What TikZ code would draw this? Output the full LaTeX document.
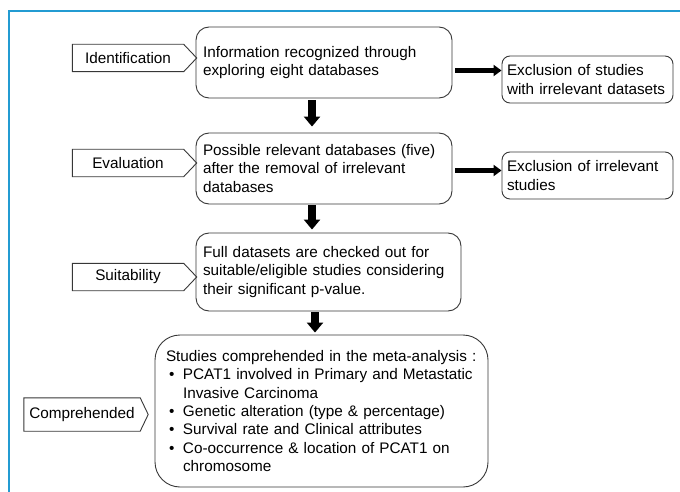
\documentclass[tikz,border=0pt]{standalone}
\usepackage{fontspec}
\setmainfont{Liberation Sans}
\usetikzlibrary{arrows.meta,calc}
\definecolor{frameblue}{RGB}{35,155,210}
\definecolor{boxgray}{RGB}{55,55,55}
\newcommand\tagshape[2]{\draw[boxgray,line width=0.9pt] (#1.north west) -- (#1.north east) -- ($(#1.east)+(#2,0)$) -- (#1.south east) -- (#1.south west) -- cycle;}
\newcommand\bul{\makebox[17pt][l]{\hspace{3pt}•}}
\begin{document}
\begin{tikzpicture}[x=1pt,y=-1pt,
  font=\fontsize{15.3}{18.3}\selectfont,
  box/.style={draw=boxgray, line width=0.9pt, rounded corners=13pt, align=left, inner xsep=7pt, inner ysep=0pt, text=black},
  exbox/.style={box, rounded corners=8pt, inner xsep=5pt, text width=161pt, minimum height=47pt},
  lab/.style={inner sep=0pt, minimum height=27pt, minimum width=111pt},
  dn/.style={line width=8pt, -{Triangle[width=16pt,length=10pt]}, black},
  rt/.style={line width=5.5pt, -{Triangle[width=11pt,length=8pt]}, black}]
\useasboundingbox (0,0) rectangle (680,492);
\draw[frameblue, line width=1.6pt] (9,492) -- (9,11) -- (680,11);

\node[box, text width=242pt, minimum height=71pt] (b1) at (324,62.5)
  {Information recognized through\\exploring eight databases};
\node[box, text width=242pt, minimum height=71pt] (b2) at (324,168.5)
  {Possible relevant databases (five)\\after the removal of irrelevant\\databases};
\node[box, text width=251pt, minimum height=78pt] (b3) at (328.5,272)
  {Full datasets are checked out for\\suitable/eligible studies considering\\their significant p-value.};
\node[box, rounded corners=25pt, inner xsep=11pt, text width=311pt, minimum height=152pt] (b4) at (321.5,411)
  {Studies comprehended in the meta-analysis :\\
   \bul PCAT1 involved in Primary and Metastatic\\
   \hspace*{17pt}Invasive Carcinoma\\
   \bul Genetic alteration (type \& percentage)\\
   \bul Survival rate and Clinical attributes\\
   \bul Co-occurrence \& location of PCAT1 on\\
   \hspace*{17pt}chromosome};

\node[exbox] (e1) at (587.5,79.5) {Exclusion of studies\\with irrelevant datasets};
\node[exbox] (e2) at (587.5,175.5) {Exclusion of irrelevant\\studies};

\node[lab] (l1) at (128,58) {Identification};
\node[lab] (l2) at (128,163) {Evaluation};
\node[lab] (l3) at (128,277) {Suitability};
\node[lab, minimum width=116pt, minimum height=33pt] (l4) at (82,414.5) {Comprehended};
\tagshape{l1}{13}
\tagshape{l2}{13}
\tagshape{l3}{13}
\tagshape{l4}{8}

\coordinate (x1) at (312,0);
\coordinate (x3) at (315,0);
\draw[dn, shorten <=2pt, shorten >=6pt] (b1.south -| x1) -- (b2.north -| x1);
\draw[dn, shorten <=1pt, shorten >=3pt] (b2.south -| x1) -- (b3.north -| x1);
\draw[dn, shorten <=1pt, shorten >=2pt] (b3.south -| x3) -- (b4.north -| x3);

\coordinate (h1) at (0,70.5);
\coordinate (h2) at (0,170.5);
\draw[rt, shorten <=3pt] (b1.east |- h1) -- (e1.west |- h1);
\draw[rt, shorten <=3pt] (b2.east |- h2) -- (e2.west |- h2);
\end{tikzpicture}
\end{document}
